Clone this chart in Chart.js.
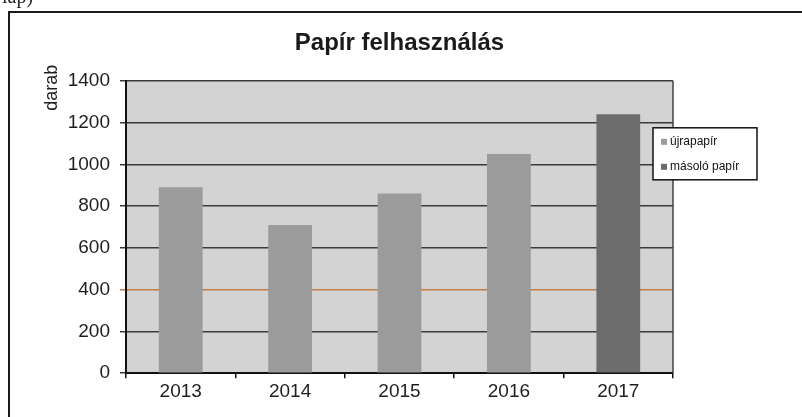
<!DOCTYPE html>
<html>
<head>
<meta charset="utf-8">
<script src="https://cdn.jsdelivr.net/npm/chart.js@4/dist/chart.umd.min.js"></script>
<style>
  html, body { margin: 0; padding: 0; background: #fff; }
  #wrap { position: relative; width: 802px; height: 417px; overflow: hidden; }
  #note { position: absolute; left: 2px; top: -15px; font: 20px "Liberation Serif", serif; color: #222; }
  canvas { display: block; }
</style>
</head>
<body>
<div id="wrap">
  <canvas id="chart" width="802" height="417"></canvas>
  <div id="note">lap)</div>
</div>
<script>
// --- data ---
const years = ['2013', '2014', '2015', '2016', '2017'];
const ujrapapir = [890, 710, 860, 1050, null];
const masoloPapir = [null, null, null, null, 1240];
const yTicks = [0, 200, 400, 600, 800, 1000, 1200, 1400];
const yAxisTitle = 'darab';

Chart.defaults.font.family = '"Liberation Sans", Arial, sans-serif';
Chart.defaults.color = '#1e1e1e';

// page frame, grey plot area, axis title above the top tick, boxed legend
const paperPlugin = {
    id: 'paper',
    beforeDraw(chart) {
        const { ctx, chartArea: a } = chart;
        ctx.save();
        ctx.fillStyle = '#fff';
        ctx.fillRect(0, 0, chart.width, chart.height);
        ctx.strokeStyle = '#1a1a1a';
        ctx.lineWidth = 2;
        ctx.beginPath();
        ctx.moveTo(9, chart.height + 2);
        ctx.lineTo(9, 12);
        ctx.lineTo(chart.width + 2, 12);
        ctx.stroke();
        ctx.fillStyle = '#d3d3d3';
        ctx.fillRect(a.left, a.top, a.right - a.left, a.bottom - a.top);
        ctx.restore();
    },
    afterDraw(chart) {
        const { ctx, chartArea: a } = chart;
        ctx.save();
        ctx.strokeStyle = '#444';
        ctx.lineWidth = 1.5;
        ctx.beginPath();
        ctx.moveTo(a.right, a.top);
        ctx.lineTo(a.right, a.bottom);
        ctx.stroke();

        // "darab", rotated, sitting high next to the 1400 label
        ctx.save();
        ctx.translate(a.left - 74, a.top - 16);
        ctx.rotate(-Math.PI / 2);
        ctx.font = '18px "Liberation Sans", Arial, sans-serif';
        ctx.fillStyle = '#1e1e1e';
        ctx.textAlign = 'right';
        ctx.textBaseline = 'middle';
        ctx.fillText(yAxisTitle, 0, 0);
        ctx.restore();

        // legend box overlapping the right edge of the plot
        const x0 = a.right - 20, y0 = a.top + 47, w = 104, h = 52;
        ctx.fillStyle = '#fff';
        ctx.fillRect(x0, y0, w, h);
        ctx.strokeStyle = '#111';
        ctx.strokeRect(x0, y0, w, h);
        ctx.font = '12px "Liberation Sans", Arial, sans-serif';
        ctx.textBaseline = 'middle';
        chart.data.datasets.forEach((ds, i) => {
            const cy = y0 + 14 + i * 25;
            ctx.fillStyle = ds.backgroundColor;
            ctx.fillRect(x0 + 8, cy - 3, 6, 6);
            ctx.fillStyle = '#111';
            ctx.fillText(ds.label, x0 + 17, cy);
        });
        ctx.restore();
    }
};

new Chart(document.getElementById('chart'), {
    type: 'bar',
    data: {
        labels: years,
        datasets: [
            { label: 'újrapapír', data: ujrapapir, backgroundColor: '#9b9b9b' },
            { label: 'másoló papír', data: masoloPapir, backgroundColor: '#6c6c6c' }
        ]
    },
    options: {
        responsive: false,
        animation: false,
        layout: { padding: { top: 12, left: 30, right: 129, bottom: 12 } },
        datasets: { bar: { barPercentage: 0.4, categoryPercentage: 1 } },
        plugins: {
            legend: { display: false },
            tooltip: { enabled: false },
            title: {
                display: true,
                fullSize: false,
                text: 'Papír felhasználás',
                color: '#1a1a1a',
                font: { size: 24, weight: 'bold' },
                padding: { top: 17, bottom: 23 }
            }
        },
        scales: {
            x: {
                stacked: true,
                grid: { drawOnChartArea: false, tickLength: 5, color: '#111', lineWidth: 1.5 },
                border: { color: '#111', width: 2 },
                ticks: { color: '#1e1e1e', font: { size: 19 }, padding: 2 }
            },
            y: {
                stacked: true,
                min: 0,
                max: 1400,
                afterBuildTicks: axis => { axis.ticks = yTicks.map(v => ({ value: v })); },
                afterFit: scale => { scale.width = 96; },
                grid: {
                    tickLength: 6,
                    lineWidth: 1.5,
                    color: ctx => (ctx.tick && ctx.tick.value === 400) ? '#c27d45' : '#3a3a3a'
                },
                border: { color: '#111', width: 2 },
                ticks: { color: '#1e1e1e', font: { size: 19 }, padding: 10, callback: v => String(v) }
            }
        }
    },
    plugins: [paperPlugin]
});
</script>
</body>
</html>
